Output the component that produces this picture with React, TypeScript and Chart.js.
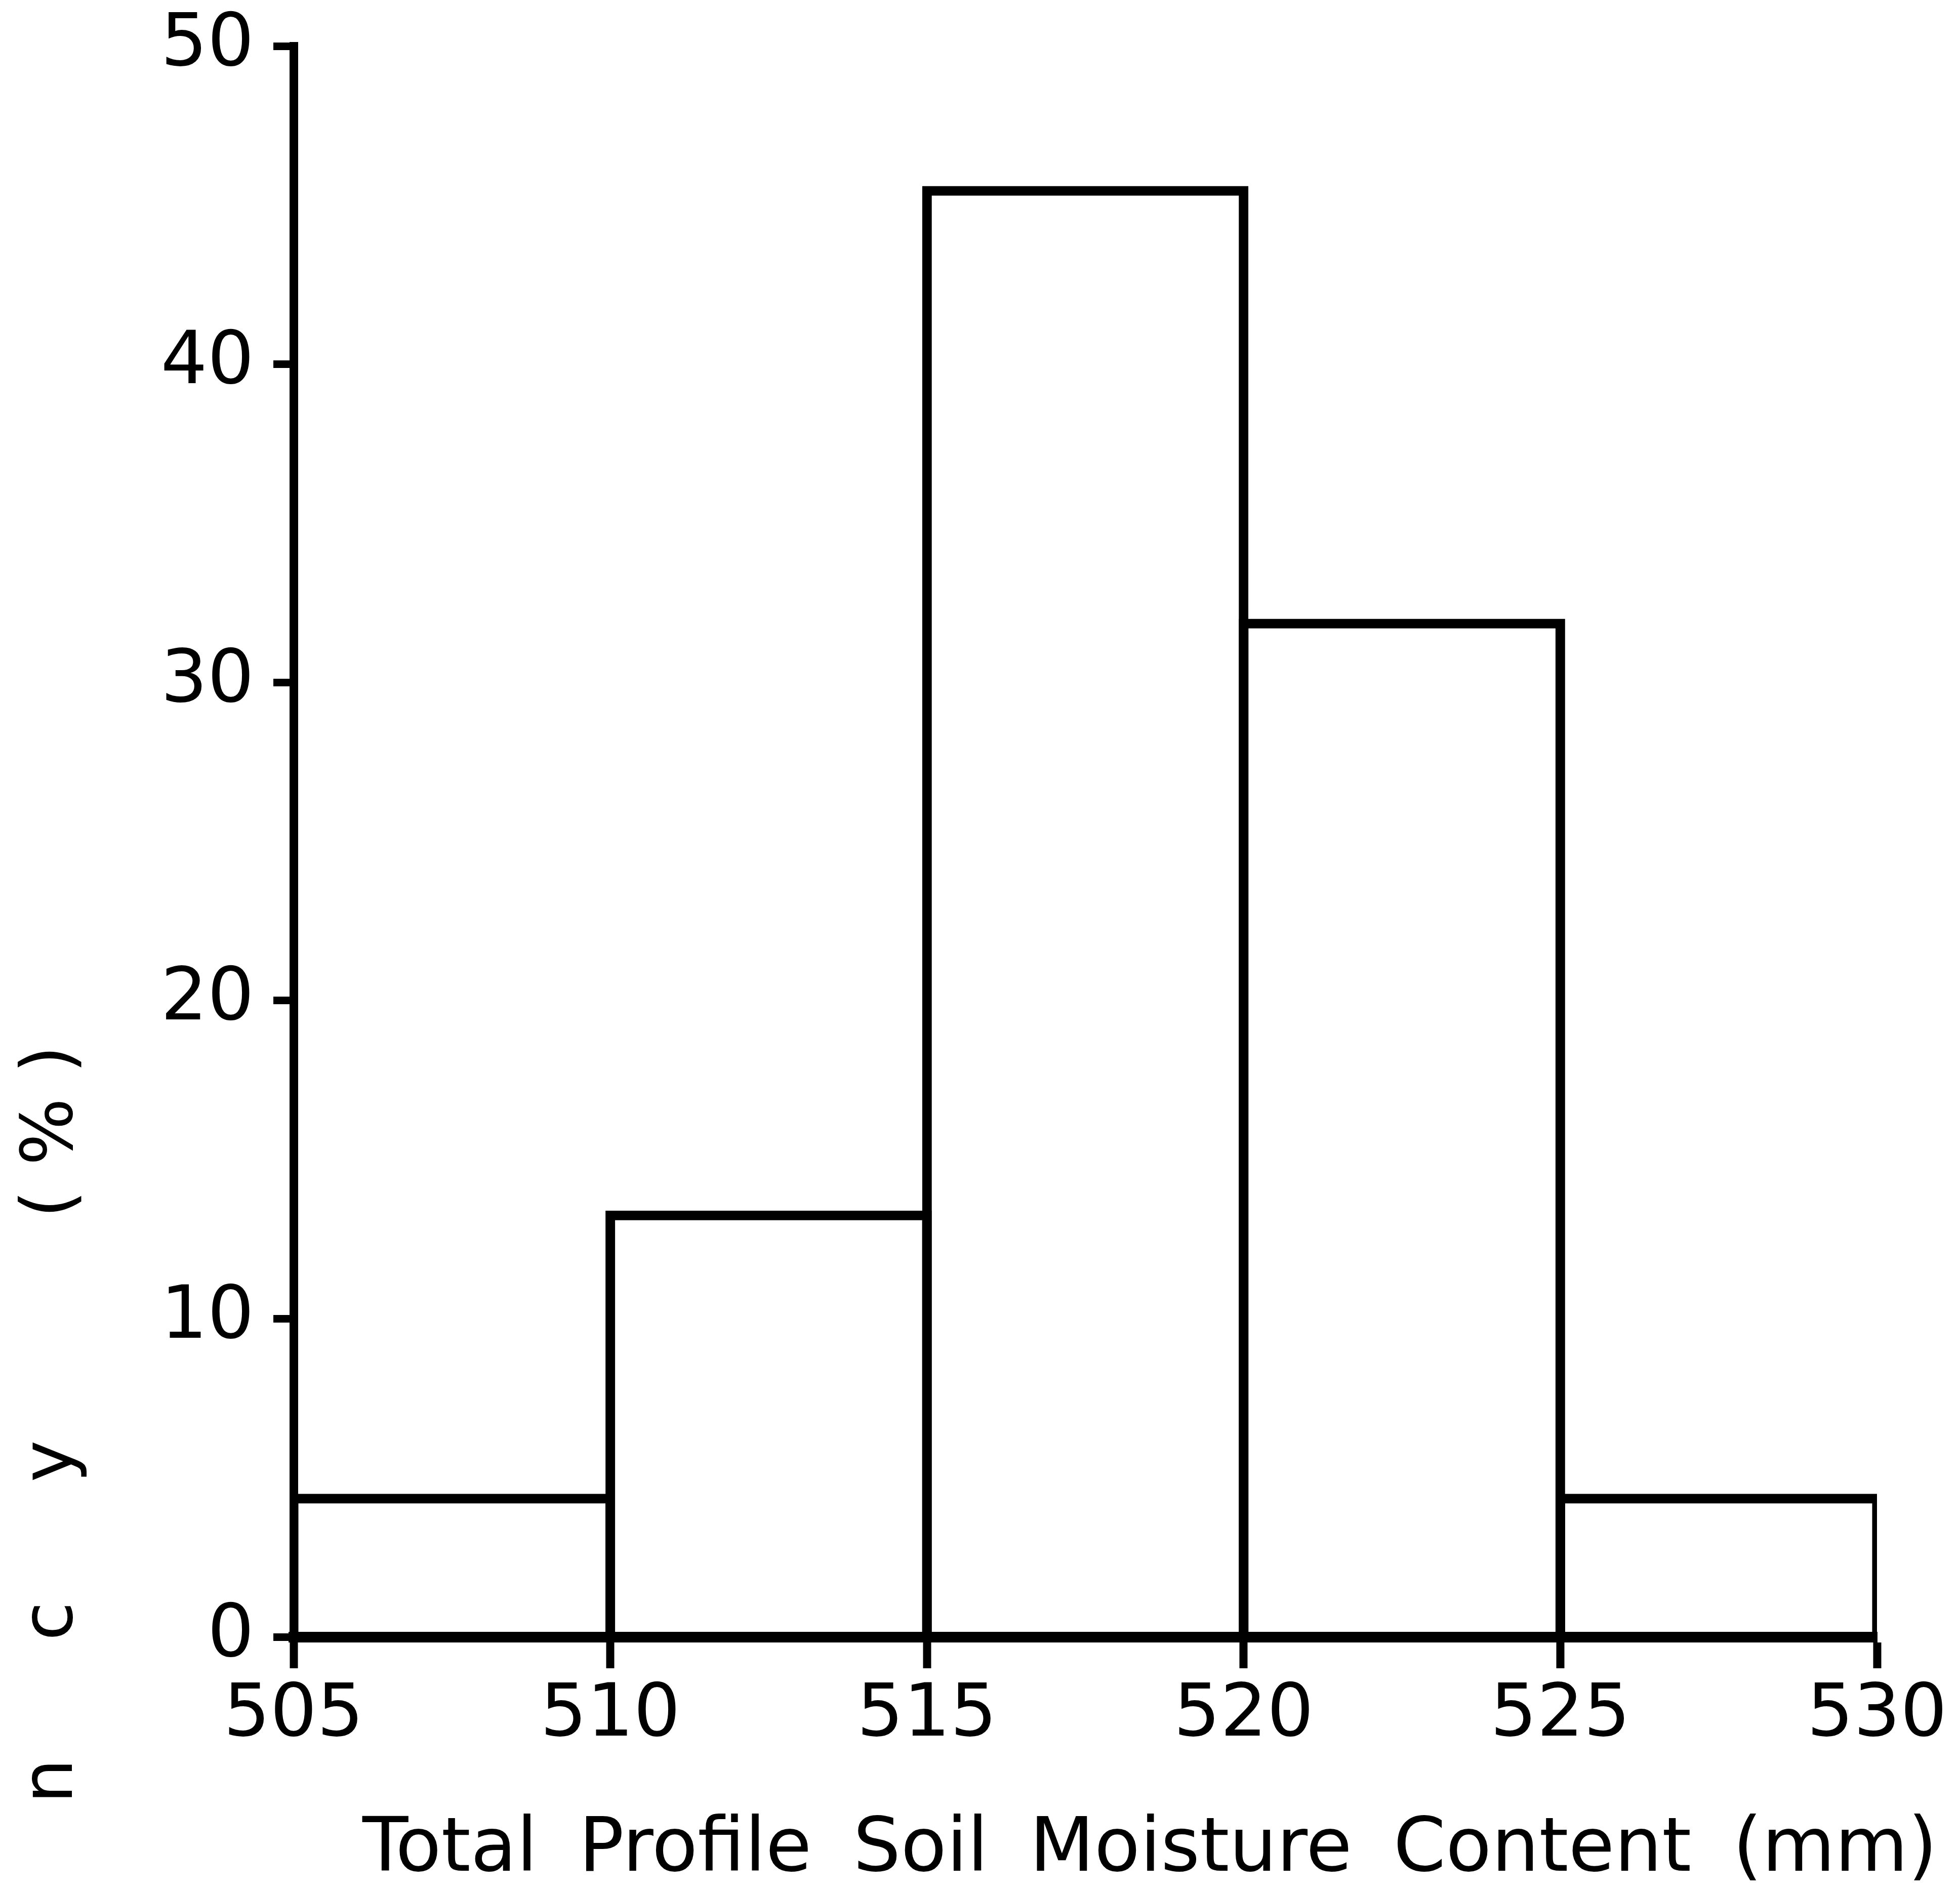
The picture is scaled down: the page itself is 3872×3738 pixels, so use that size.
import React, { useEffect, useRef } from "react";
import { Chart, registerables } from "chart.js";

Chart.register(...registerables);

// ---------------- data ----------------
const binStarts = [505, 510, 515, 520, 525];
const binWidth = 5;
const frequencies = [4.5, 13.4, 45.6, 32.0, 4.5];
const xTicks = [505, 510, 515, 520, 525, 530];
const yTicks = [0, 10, 20, 30, 40, 50];
const xTitleWords = ["Total", "Profile", "Soil", "Moisture", "Content", "(mm)"];
const yTitleWord = "Frequency";
const yTitleUnit = "(%)";

// ---------------- layout ----------------
const W = 3872;
const H = 3738;
const FONT = "'DejaVu Sans', 'Liberation Sans', sans-serif";
const AREA_LEFT = 580;
const AREA_RIGHT = 3708;
const AREA_TOP = 91;
const AREA_BOTTOM = 3234;
const LINE = 19;
const BIN_PX = (AREA_RIGHT - AREA_LEFT) / ((xTicks[xTicks.length - 1] - xTicks[0]) / binWidth);
const X_TITLE_LEFT = 716;
const X_TITLE_RIGHT = 3827;
const X_TITLE_BASELINE = 3696;

const titlesPlugin = {
  id: "axisTitles",
  afterDraw(chart: any) {
    const ctx = chart.ctx as CanvasRenderingContext2D;
    ctx.save();
    ctx.fillStyle = "#000";
    // x-axis title: words spread evenly between the measured ends
    ctx.font = `148px ${FONT}`;
    ctx.textBaseline = "alphabetic";
    ctx.textAlign = "left";
    const widths = xTitleWords.map((w) => ctx.measureText(w).width);
    const total = widths.reduce((a, b) => a + b, 0);
    const gap = (X_TITLE_RIGHT - X_TITLE_LEFT - total) / (xTitleWords.length - 1);
    let x = X_TITLE_LEFT;
    xTitleWords.forEach((w, i) => {
      ctx.fillText(w, x, X_TITLE_BASELINE);
      x += widths[i] + gap;
    });

    // y-axis title, rotated, letters widely spaced, partly off the page
    ctx.font = `140px ${FONT}`;
    ctx.textAlign = "center";
    ctx.translate(142, 0);
    ctx.rotate(-Math.PI / 2);
    const unitEnd = 2093;
    const unitStep = 143;
    const wordGap = 508;
    const wordStep = 316;
    const unitChars = yTitleUnit.split("");
    unitChars.forEach((ch, i) => {
      const cy = unitEnd + (unitChars.length - 1 - i) * unitStep;
      ctx.fillText(ch, -cy, 0);
    });
    const wordChars = yTitleWord.split("");
    const lastWordY = unitEnd + (unitChars.length - 1) * unitStep + wordGap;
    wordChars.forEach((ch, i) => {
      const cy = lastWordY + (wordChars.length - 1 - i) * wordStep;
      ctx.fillText(ch, -cy, 0);
    });
    ctx.restore();
  },
};

export default function App() {
  const ref = useRef<HTMLCanvasElement | null>(null);

  useEffect(() => {
    document.body.style.margin = "0";
    const canvas = ref.current;
    if (!canvas) return;
    const chart = new Chart(canvas, {
      type: "bar",
      data: {
        datasets: [
          {
            data: binStarts.map((s, i) => ({ x: s + binWidth / 2, y: frequencies[i] })),
            backgroundColor: "rgba(255,255,255,0)",
            borderColor: "#000",
            borderWidth: LINE,
            borderSkipped: "start",
            barPercentage: 1 + LINE / BIN_PX,
            categoryPercentage: 1,
            inflateAmount: 0,
          } as any,
        ],
      },
      options: {
        responsive: false,
        maintainAspectRatio: false,
        animation: false,
        devicePixelRatio: 1,
        layout: { padding: { top: AREA_TOP, right: W - AREA_RIGHT, left: 0, bottom: 0 } },
        plugins: { legend: { display: false }, tooltip: { enabled: false }, title: { display: false } },
        scales: {
          x: {
            type: "linear",
            min: xTicks[0],
            max: xTicks[xTicks.length - 1],
            offset: false,
            afterFit: (s: any) => {
              s.height = H - AREA_BOTTOM;
              s.paddingLeft = 0;
              s.paddingRight = 0;
            },
            afterBuildTicks: (s: any) => {
              s.ticks = xTicks.map((v) => ({ value: v }));
            },
            ticks: {
              color: "#000",
              font: { family: FONT, size: 145 },
              padding: 8,
              maxRotation: 0,
              autoSkip: false,
            },
            grid: {
              offset: false,
              drawOnChartArea: false,
              drawTicks: true,
              tickLength: 62,
              tickWidth: 16,
              tickColor: "#000",
            },
            border: { display: true, color: "#000", width: 21, z: 1 },
          },
          y: {
            type: "linear",
            min: yTicks[0],
            max: yTicks[yTicks.length - 1],
            afterFit: (s: any) => {
              s.width = AREA_LEFT;
              s.paddingTop = 0;
              s.paddingBottom = 0;
            },
            afterBuildTicks: (s: any) => {
              s.ticks = yTicks.map((v) => ({ value: v }));
            },
            ticks: {
              color: "#000",
              font: { family: FONT, size: 145 },
              padding: 38,
              autoSkip: false,
            },
            grid: {
              offset: false,
              drawOnChartArea: false,
              drawTicks: true,
              tickLength: 40,
              tickWidth: 15,
              tickColor: "#000",
            },
            border: { display: true, color: "#000", width: 17, z: 1 },
          },
        },
      } as any,
      plugins: [titlesPlugin],
    });
    return () => chart.destroy();
  }, []);

  return (
    <div style={{ position: "absolute", left: 0, top: 0, width: W, height: H, background: "#fff" }}>
      <canvas ref={ref} width={W} height={H} style={{ display: "block", width: W, height: H }} />
    </div>
  );
}
